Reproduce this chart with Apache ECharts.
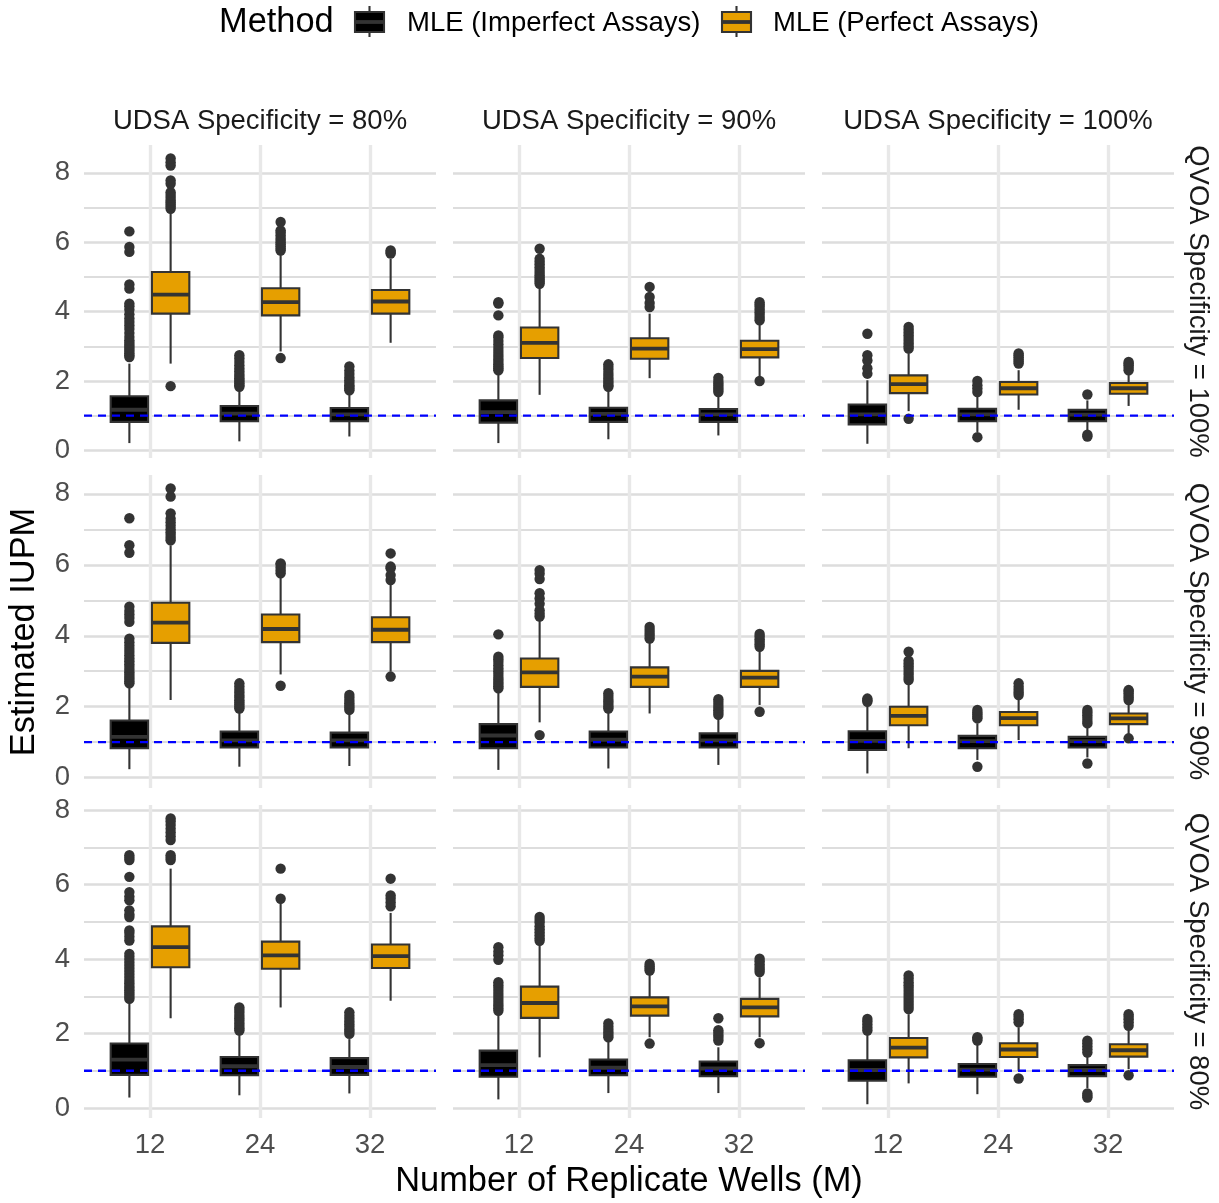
<!DOCTYPE html>
<html>
<head>
<meta charset="utf-8">
<script src="https://cdn.jsdelivr.net/npm/echarts@6/dist/echarts.min.js"></script>
<style>
html,body{margin:0;padding:0;background:#ffffff;}
#chart{width:1219px;height:1203px;}
</style>
</head>
<body>
<div id="chart"></div>
<script>
// ---------------- labels ----------------
const wellCounts = ['12', '24', '32'];
const udsaLabels = ['UDSA Specificity = 80%', 'UDSA Specificity = 90%', 'UDSA Specificity = 100%'];
const qvoaLabels = ['QVOA Specificity = 100%', 'QVOA Specificity = 90%', 'QVOA Specificity = 80%'];
const methodNames = ['MLE (Imperfect Assays)', 'MLE (Perfect Assays)'];
const legendTitle = 'Method';
const xTitle = 'Number of Replicate Wells (M)';
const yTitle = 'Estimated IUPM';
const referenceIUPM = 1;
// y range of each facet row (free y scales)
const yLimits = [[-0.22, 8.8], [-0.29, 8.53], [-0.27, 8.14]];

// ---------------- data: [lower whisker, Q1, median, Q3, upper whisker] per M ----------------
// Row QVOA 100%
const imp_q100_u80 = [[0.21, 0.82, 1.17, 1.56, 2.50], [0.26, 0.84, 1.06, 1.28, 1.78], [0.40, 0.84, 1.04, 1.22, 1.63]];
const impOut_q100_u80 = [[2.69, 2.74, 2.8, 2.86, 2.92, 2.98, 3.04, 3.1, 3.17, 3.27, 3.38, 3.5, 3.6, 3.7, 3.8, 3.92, 4.05, 4.15, 4.23, 4.66, 4.78, 5.72, 5.86, 6.31],
  [1.83, 1.88, 1.93, 1.98, 2.03, 2.08, 2.14, 2.2, 2.28, 2.36, 2.45, 2.55, 2.65, 2.74],
  [1.73, 1.78, 1.83, 1.88, 1.95, 2.02, 2.1, 2.2, 2.3, 2.42]];
const perf_q100_u80 = [[2.50, 3.94, 4.49, 5.14, 6.87], [2.85, 3.89, 4.27, 4.67, 5.72], [3.10, 3.94, 4.29, 4.62, 5.52]];
const perfOut_q100_u80 = [[1.85, 6.96, 7.02, 7.08, 7.14, 7.2, 7.28, 7.36, 7.44, 7.68, 7.78, 8.21, 8.3, 8.41],
  [2.66, 5.76, 5.82, 5.88, 5.94, 6.0, 6.06, 6.12, 6.2, 6.28, 6.34, 6.58],
  [5.67, 5.72, 5.76]];

const imp_q100_u90 = [[0.21, 0.80, 1.10, 1.44, 2.21], [0.32, 0.82, 1.05, 1.23, 1.73], [0.43, 0.82, 1.04, 1.19, 1.58]];
const impOut_q100_u90 = [[2.31, 2.36, 2.42, 2.48, 2.55, 2.62, 2.7, 2.78, 2.86, 2.95, 3.05, 3.15, 3.25, 3.31, 3.89, 4.23, 4.27],
  [1.83, 1.88, 1.94, 2.0, 2.07, 2.15, 2.23, 2.32, 2.4, 2.48],
  [1.68, 1.74, 1.8, 1.86, 1.93, 2.0, 2.09]];
const perf_q100_u90 = [[1.60, 2.66, 3.10, 3.54, 4.71], [2.08, 2.64, 2.93, 3.23, 3.94], [2.11, 2.68, 2.92, 3.16, 3.70]];
const perfOut_q100_u90 = [[4.80, 4.86, 4.92, 4.98, 5.05, 5.12, 5.2, 5.28, 5.36, 5.44, 5.52, 5.81],
  [4.13, 4.25, 4.42, 4.71],
  [2.0, 3.75, 3.82, 3.9, 3.98, 4.06, 4.14, 4.2, 4.27]];

const imp_q100_u100 = [[0.19, 0.75, 1.04, 1.32, 2.02], [0.53, 0.84, 1.04, 1.20, 1.54], [0.58, 0.84, 1.03, 1.17, 1.44]];
const impOut_q100_u100 = [[2.21, 2.37, 2.59, 2.74, 3.36],
  [0.38, 1.68, 1.78, 1.88, 2.0],
  [0.40, 0.45, 1.61]];
const perf_q100_u100 = [[1.13, 1.65, 1.91, 2.16, 2.79], [1.17, 1.61, 1.79, 1.97, 2.31], [1.28, 1.63, 1.79, 1.94, 2.21]];
const perfOut_q100_u100 = [[0.91, 2.93, 3.0, 3.08, 3.16, 3.24, 3.32, 3.4, 3.48, 3.56],
  [2.5, 2.56, 2.62, 2.68, 2.74, 2.79],
  [2.31, 2.38, 2.45, 2.5, 2.55]];

// Row QVOA 90%
const imp_q90_u80 = [[0.24, 0.83, 1.15, 1.61, 2.56], [0.31, 0.85, 1.05, 1.30, 1.86], [0.33, 0.85, 1.05, 1.27, 1.77]];
const impOut_q90_u80 = [[2.66, 2.72, 2.78, 2.84, 2.9, 2.97, 3.04, 3.12, 3.2, 3.28, 3.36, 3.45, 3.54, 3.63, 3.72, 3.82, 3.92, 4.39, 4.5, 4.6, 4.7, 4.82, 6.34, 6.55, 7.31],
  [1.95, 2.0, 2.06, 2.12, 2.18, 2.25, 2.32, 2.4, 2.48, 2.57, 2.66],
  [1.91, 1.97, 2.03, 2.1, 2.17, 2.25, 2.33]];
const perf_q90_u80 = [[2.19, 3.80, 4.37, 4.93, 6.55], [2.91, 3.82, 4.19, 4.60, 5.66], [2.99, 3.82, 4.17, 4.52, 5.47]];
const perfOut_q90_u80 = [[6.69, 6.76, 6.84, 6.92, 7.0, 7.1, 7.2, 7.3, 7.45, 7.92, 8.15],
  [2.59, 5.76, 5.84, 5.92, 6.0, 6.04],
  [2.85, 5.57, 5.71, 5.9, 5.95, 6.32]];

const imp_q90_u90 = [[0.22, 0.83, 1.19, 1.51, 2.42], [0.26, 0.85, 1.07, 1.30, 1.86], [0.36, 0.85, 1.05, 1.25, 1.67]];
const impOut_q90_u90 = [[2.52, 2.58, 2.64, 2.7, 2.77, 2.84, 2.92, 3.0, 3.08, 3.17, 3.26, 3.34, 3.41, 4.04],
  [1.95, 2.01, 2.08, 2.15, 2.22, 2.3, 2.38],
  [1.77, 1.83, 1.9, 1.97, 2.05, 2.13, 2.21]];
const perf_q90_u90 = [[1.56, 2.56, 2.97, 3.36, 4.44], [1.81, 2.56, 2.85, 3.11, 3.83], [2.05, 2.56, 2.82, 3.01, 3.60]];
const perfOut_q90_u90 = [[1.20, 4.54, 4.62, 4.72, 4.9, 5.05, 5.2, 5.6, 5.75, 5.85],
  [3.92, 4.0, 4.08, 4.16, 4.25],
  [1.86, 3.69, 3.76, 3.83, 3.9, 3.98, 4.05]];

const imp_q90_u100 = [[0.12, 0.78, 1.04, 1.31, 2.05], [0.50, 0.83, 1.03, 1.18, 1.53], [0.57, 0.85, 1.03, 1.15, 1.42]];
const impOut_q90_u100 = [[2.14, 2.18, 2.23],
  [0.31, 1.67, 1.72, 1.78, 1.84, 1.91],
  [0.40, 1.53, 1.6, 1.68, 1.76, 1.84, 1.91]];
const perf_q90_u100 = [[0.83, 1.48, 1.74, 2.00, 2.66], [1.06, 1.48, 1.68, 1.85, 2.19], [1.20, 1.51, 1.67, 1.81, 2.09]];
const perfOut_q90_u100 = [[2.75, 2.82, 2.9, 2.98, 3.06, 3.14, 3.22, 3.3, 3.55],
  [2.33, 2.4, 2.48, 2.56, 2.66],
  [1.11, 2.19, 2.25, 2.31, 2.38, 2.44, 2.47]];

// Row QVOA 80%
const imp_q80_u80 = [[0.28, 0.89, 1.30, 1.73, 2.84], [0.34, 0.88, 1.12, 1.37, 1.99], [0.39, 0.89, 1.10, 1.34, 1.85]];
const impOut_q80_u80 = [[2.93, 2.98, 3.04, 3.1, 3.16, 3.22, 3.28, 3.35, 3.42, 3.5, 3.58, 3.66, 3.74, 3.82, 3.9, 3.98, 4.06, 4.14, 4.5, 4.6, 4.7, 4.77, 5.13, 5.2, 5.31, 5.58, 5.68, 5.8, 6.21, 6.66, 6.72, 6.79],
  [2.08, 2.14, 2.2, 2.27, 2.34, 2.41, 2.48, 2.56, 2.63, 2.70],
  [1.99, 2.05, 2.11, 2.18, 2.25, 2.32, 2.4, 2.48, 2.57]];
const perf_q80_u80 = [[2.41, 3.78, 4.32, 4.88, 6.43], [2.70, 3.74, 4.10, 4.47, 5.58], [2.88, 3.76, 4.08, 4.39, 5.24]];
const perfOut_q80_u80 = [[6.66, 6.72, 6.79, 7.2, 7.3, 7.4, 7.5, 7.6, 7.7, 7.78],
  [5.62, 6.43],
  [5.42, 5.52, 5.62, 5.71, 6.16]];

const imp_q80_u90 = [[0.23, 0.84, 1.15, 1.54, 2.52], [0.40, 0.88, 1.08, 1.30, 1.81], [0.40, 0.85, 1.06, 1.25, 1.63]];
const impOut_q80_u90 = [[2.61, 2.68, 2.75, 2.82, 2.9, 2.98, 3.06, 3.14, 3.22, 3.3, 3.38, 3.98, 4.1, 4.2, 4.32],
  [1.90, 1.96, 2.03, 2.1, 2.18, 2.27],
  [1.81, 1.88, 1.95, 2.02, 2.09, 2.41]];
const perf_q80_u90 = [[1.36, 2.42, 2.82, 3.26, 4.41], [1.90, 2.48, 2.73, 2.97, 3.60], [1.90, 2.46, 2.70, 2.93, 3.51]];
const perfOut_q80_u90 = [[4.49, 4.56, 4.64, 4.72, 4.8, 4.88, 4.98, 5.05, 5.13],
  [1.73, 3.69, 3.75, 3.81, 3.87],
  [1.74, 3.65, 3.72, 3.79, 3.86, 3.94, 4.01]];

const imp_q80_u100 = [[0.10, 0.73, 1.02, 1.28, 1.99], [0.37, 0.84, 1.03, 1.18, 1.70], [0.53, 0.85, 1.02, 1.15, 1.37]];
const impOut_q80_u100 = [[2.08, 2.16, 2.24, 2.32, 2.39],
  [1.81, 1.86, 1.9],
  [0.28, 0.33, 0.39, 1.49, 1.58, 1.66, 1.74, 1.81]];
const perf_q80_u100 = [[0.66, 1.36, 1.62, 1.88, 2.52], [1.00, 1.37, 1.57, 1.74, 2.17], [1.04, 1.38, 1.55, 1.71, 2.08]];
const perfOut_q80_u100 = [[2.66, 2.74, 2.82, 2.9, 2.98, 3.06, 3.14, 3.22, 3.3, 3.38, 3.47, 3.56],
  [0.79, 2.30, 2.38, 2.45, 2.52],
  [0.88, 2.21, 2.3, 2.38, 2.45, 2.52]];

// ---------------- layout / style ----------------
const FONT = '"Liberation Sans", Arial, Helvetica, sans-serif';
const COL_LEFT = [84, 453, 822];
const COL_W = 352;
const ROW_TOP = [145, 475, 805];
const ROW_H = 313;
const SLOT_COUNT = 17;              // ggplot discrete expansion: 0.6 unit each side
const slotOfWell = [3, 8, 13];
const BOX_OFFSET = 0.1875;          // dodge offset (in category units)
const BOX_HALF = 0.17;              // half box width (in category units)
const FILLS = ['#000000', '#E69F00'];
const DARK = '#333333';
const LW = 2.1;

const panels = [
  [imp_q100_u80, impOut_q100_u80, perf_q100_u80, perfOut_q100_u80],
  [imp_q100_u90, impOut_q100_u90, perf_q100_u90, perfOut_q100_u90],
  [imp_q100_u100, impOut_q100_u100, perf_q100_u100, perfOut_q100_u100],
  [imp_q90_u80, impOut_q90_u80, perf_q90_u80, perfOut_q90_u80],
  [imp_q90_u90, impOut_q90_u90, perf_q90_u90, perfOut_q90_u90],
  [imp_q90_u100, impOut_q90_u100, perf_q90_u100, perfOut_q90_u100],
  [imp_q80_u80, impOut_q80_u80, perf_q80_u80, perfOut_q80_u80],
  [imp_q80_u90, impOut_q80_u90, perf_q80_u90, perfOut_q80_u90],
  [imp_q80_u100, impOut_q80_u100, perf_q80_u100, perfOut_q80_u100]
];

const xSlots = [];
for (let i = 0; i < SLOT_COUNT; i++) {
  const k = slotOfWell.indexOf(i);
  xSlots.push(k >= 0 ? wellCounts[k] : '');
}
const isWellSlot = (idx) => slotOfWell.indexOf(idx) >= 0;

function unitPx(api) {
  return api.coord([slotOfWell[1], 0])[0] - api.coord([slotOfWell[0], 0])[0];
}

function makeBoxRenderer(sign, fill) {
  return function (params, api) {
    const ci = api.value(0);
    const unit = unitPx(api);
    const base = api.coord([ci, api.value(3)]);
    const cx = base[0] + sign * BOX_OFFSET * unit;
    const hw = BOX_HALF * unit;
    const yLow = api.coord([ci, api.value(1)])[1];
    const yQ1 = api.coord([ci, api.value(2)])[1];
    const yMed = base[1];
    const yQ3 = api.coord([ci, api.value(4)])[1];
    const yHigh = api.coord([ci, api.value(5)])[1];
    const ls = { stroke: DARK, lineWidth: LW };
    return {
      type: 'group',
      children: [
        { type: 'line', shape: { x1: cx, y1: yQ1, x2: cx, y2: yLow }, style: ls },
        { type: 'line', shape: { x1: cx, y1: yQ3, x2: cx, y2: yHigh }, style: ls },
        { type: 'rect', shape: { x: cx - hw, y: yQ3, width: 2 * hw, height: yQ1 - yQ3 }, style: { fill: fill, stroke: DARK, lineWidth: LW } },
        { type: 'line', shape: { x1: cx - hw, y1: yMed, x2: cx + hw, y2: yMed }, style: { stroke: DARK, lineWidth: 3.8 } }
      ]
    };
  };
}

function makeOutlierRenderer(sign) {
  return function (params, api) {
    const p = api.coord([api.value(0), api.value(1)]);
    const unit = unitPx(api);
    return { type: 'circle', shape: { cx: p[0] + sign * BOX_OFFSET * unit, cy: p[1], r: 5.2 }, style: { fill: DARK } };
  };
}

const grids = [], xAxes = [], yAxes = [], series = [];
panels.forEach(function (panel, i) {
  const r = Math.floor(i / 3), c = i % 3;
  grids.push({ left: COL_LEFT[c], top: ROW_TOP[r], width: COL_W, height: ROW_H, containLabel: false });
  xAxes.push({
    gridIndex: i, type: 'category', data: xSlots, boundaryGap: false,
    axisLine: { show: false }, axisTick: { show: false },
    axisLabel: { show: r === 2, interval: function (idx) { return isWellSlot(idx); }, margin: 13,
      fontSize: 27.5, color: '#4d4d4d', fontFamily: FONT },
    splitLine: { show: true, interval: function (idx) { return isWellSlot(idx); },
      lineStyle: { color: '#e8e8e8', width: 3.4 } }
  });
  yAxes.push({
    gridIndex: i, type: 'value', min: yLimits[r][0], max: yLimits[r][1],
    axisLine: { show: false }, axisTick: { show: false },
    axisLabel: { show: c === 0, showMinLabel: false, showMaxLabel: false, margin: 14,
      fontSize: 27.5, color: '#4d4d4d', fontFamily: FONT },
    splitLine: { show: true, showMinLine: false, showMaxLine: false, lineStyle: { color: '#dddddd', width: 2.6 } },
    minorTick: { show: false, splitNumber: 2 },
    minorSplitLine: { show: true, lineStyle: { color: '#dddddd', width: 1.8 } }
  });
  for (let m = 0; m < 2; m++) {
    const sign = m === 0 ? -1 : 1;
    const boxes = panel[m * 2], outs = panel[m * 2 + 1];
    series.push({
      type: 'custom', name: methodNames[m], xAxisIndex: i, yAxisIndex: i, z: 2,
      renderItem: makeBoxRenderer(sign, FILLS[m]),
      encode: { x: 0, y: [1, 2, 3, 4, 5] },
      itemStyle: { color: FILLS[m] },
      data: boxes.map(function (b, k) { return [slotOfWell[k]].concat(b); })
    });
    const od = [];
    outs.forEach(function (list, k) { list.forEach(function (v) { od.push([slotOfWell[k], v]); }); });
    series.push({
      type: 'custom', name: methodNames[m], xAxisIndex: i, yAxisIndex: i, z: 2,
      renderItem: makeOutlierRenderer(sign),
      encode: { x: 0, y: 1 },
      itemStyle: { color: FILLS[m] },
      data: od
    });
  }
  series.push({
    type: 'line', xAxisIndex: i, yAxisIndex: i, z: 5, symbol: 'none', silent: true,
    lineStyle: { color: '#0000ff', width: 2.3, type: [8, 6] },
    data: [[0, referenceIUPM], [SLOT_COUNT - 1, referenceIUPM]]
  });
});

// ---------------- texts & legend ----------------
const graphics = [];
function addText(txt, x, y, size, color, rot, align) {
  graphics.push({
    type: 'text', x: x, y: y, rotation: rot || 0, silent: true,
    style: { text: txt, fontSize: size, fontFamily: FONT, fill: color, align: align || 'center', verticalAlign: 'middle' }
  });
}
udsaLabels.forEach(function (t, c) { addText(t, COL_LEFT[c] + COL_W / 2, 121, 27.5, '#1a1a1a', 0); });
qvoaLabels.forEach(function (t, r) { addText(t, 1198, ROW_TOP[r] + ROW_H / 2, 27.5, '#1a1a1a', -Math.PI / 2); });
addText(xTitle, 629, 1182, 34.4, '#000000', 0);
addText(yTitle, 25, 632, 34.4, '#000000', Math.PI / 2);
addText(legendTitle, 219, 23, 34.4, '#000000', 0, 'left');

const legendKeys = [355, 722];
const legendTextX = [407, 773];
methodNames.forEach(function (name, m) {
  const x0 = legendKeys[m];
  graphics.push({ type: 'line', silent: true, shape: { x1: x0 + 14.5, y1: 6, x2: x0 + 14.5, y2: 37 }, style: { stroke: DARK, lineWidth: LW } });
  graphics.push({ type: 'rect', silent: true, shape: { x: x0, y: 12, width: 29, height: 20 }, style: { fill: FILLS[m], stroke: DARK, lineWidth: LW } });
  graphics.push({ type: 'line', silent: true, shape: { x1: x0, y1: 22, x2: x0 + 29, y2: 22 }, style: { stroke: DARK, lineWidth: 3.8 } });
  addText(name, legendTextX[m], 23, 27.5, '#000000', 0, 'left');
});

const chart = echarts.init(document.getElementById('chart'));
chart.setOption({
  backgroundColor: '#ffffff',
  animation: false,
  grid: grids,
  xAxis: xAxes,
  yAxis: yAxes,
  series: series,
  graphic: graphics
});
</script>
</body>
</html>
